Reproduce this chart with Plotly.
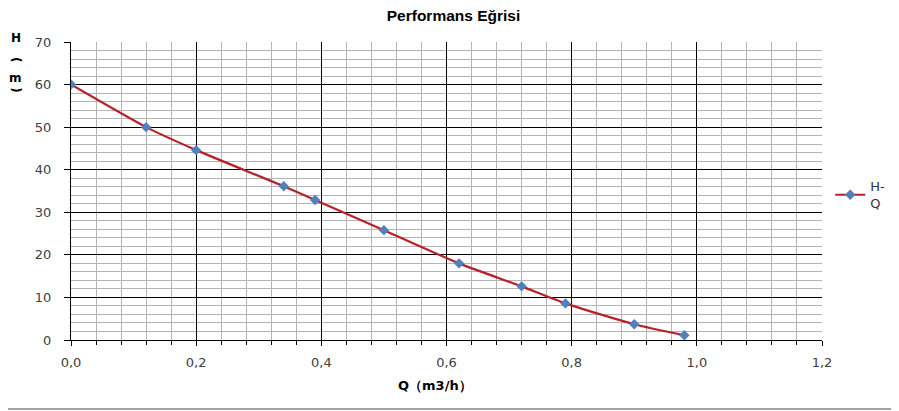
import plotly.graph_objects as go

# debi (m3/h) ve basma yuksekligi (m)
q_values = [0.0, 0.12, 0.2, 0.34, 0.39, 0.5, 0.62, 0.72, 0.79, 0.9, 0.98]
h_values = [60.0, 50.0, 44.6, 36.1, 32.9, 25.8, 18.0, 12.6, 8.6, 3.7, 1.1]
series_name = "H-<br>Q"

fig = go.Figure()
fig.add_trace(go.Scatter(
    x=q_values, y=h_values, name=series_name,
    mode="lines+markers",
    line=dict(color="#B8202A", width=2.2, shape="spline", smoothing=0.6),
    marker=dict(symbol="diamond", size=8, color="#4F81BD"),
))

# sayfa govdesi 8px kaydirdigi icin boyut 891x403
fig.update_layout(
    width=891, height=403,
    margin=dict(l=63, r=77, t=34, b=71, autoexpand=False),
    paper_bgcolor="white", plot_bgcolor="white",
    separators=",.",
    font=dict(family="DejaVu Sans", size=13, color="#404040"),
    title=dict(text="<b>Performans Eğrisi</b>", x=0.5, xanchor="center", y=0.982, yanchor="middle",
               font=dict(family="Liberation Sans", size=15.5, color="black")),
    showlegend=True,
    legend=dict(x=1.011, y=0.487, xanchor="left", yanchor="middle", bgcolor="rgba(0,0,0,0)",
                font=dict(family="DejaVu Sans", size=13, color="#333333")),
    xaxis=dict(
        range=[0, 1.2], dtick=0.2, tickformat=".1f",
        showline=True, linecolor="black", linewidth=1,
        showgrid=True, gridcolor="black", gridwidth=1, zeroline=False,
        ticks="outside", ticklen=5, tickcolor="black", ticklabelstandoff=5,
        minor=dict(dtick=0.04, showgrid=True, gridcolor="#B4B4B4", gridwidth=1,
                   ticks="outside", ticklen=4, tickcolor="black"),
    ),
    yaxis=dict(
        range=[0, 70], dtick=10,
        showline=True, linecolor="black", linewidth=1,
        showgrid=True, gridcolor="black", gridwidth=1, zeroline=False,
        ticks="outside", ticklen=6, tickcolor="black", ticklabelstandoff=10,
        minor=dict(dtick=2, showgrid=True, gridcolor="#B4B4B4", gridwidth=1),
    ),
)

# x ekseni basligi
fig.add_annotation(text="<b>Q（m3/h）</b>", xref="paper", yref="paper",
                   x=0.485, y=-0.154, xanchor="center", yanchor="middle", showarrow=False,
                   font=dict(family="DejaVu Sans", size=13, color="black"))

# dikey yazilmis y ekseni basligi: H ( m ), parantezler dondurulmus
y_title_parts = [("<b>H</b>", 1.014, 0), ("<b>(</b>", 0.940, 90), ("<b>m</b>", 0.879, 0), ("<b>)</b>", 0.839, 90)]
for txt, ypos, ang in y_title_parts:
    fig.add_annotation(text=txt, xref="paper", yref="paper", x=-0.0735, y=ypos,
                       xanchor="center", yanchor="middle", showarrow=False, textangle=ang,
                       font=dict(family="DejaVu Sans", size=12, color="black"))

# alt cerceve cizgisi
fig.add_shape(type="line", xref="paper", yref="paper", x0=-0.2, x1=1.2, y0=-0.2315, y1=-0.2315,
              line=dict(color="#A0A0A0", width=2))

fig.write_html("out.html")
